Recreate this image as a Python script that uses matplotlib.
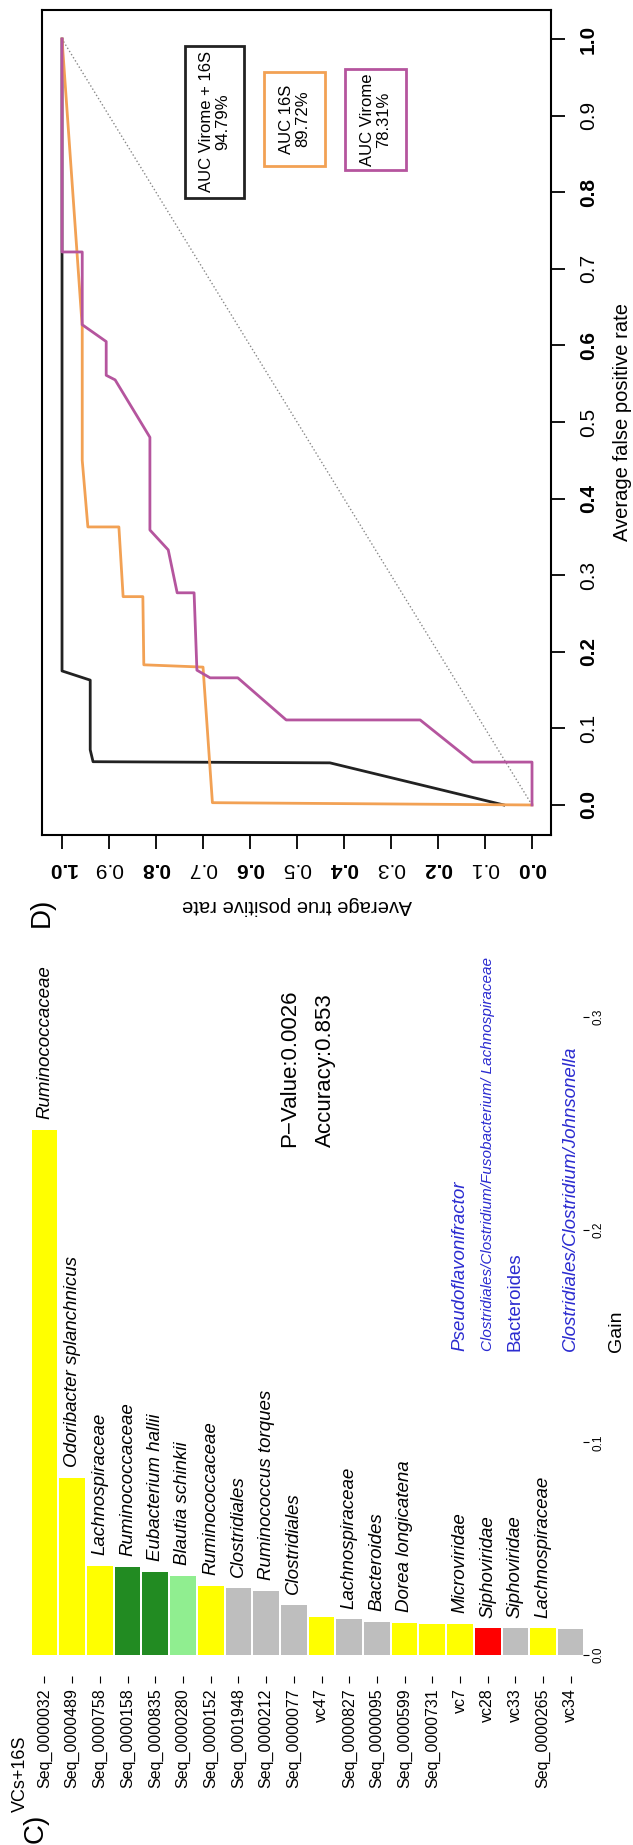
import matplotlib
matplotlib.use("Agg")
import matplotlib.pyplot as plt
from matplotlib.patches import Rectangle

plt.rcParams['font.family'] = ['Liberation Sans', 'DejaVu Sans']

# ---------------- data: panel C (feature importance, VCs + 16S) ----------------
features = ["Seq_0000032", "Seq_0000489", "Seq_0000758", "Seq_0000158", "Seq_0000835",
            "Seq_0000280", "Seq_0000152", "Seq_0001948", "Seq_0000212", "Seq_0000077",
            "vc47", "Seq_0000827", "Seq_0000095", "Seq_0000599", "Seq_0000731",
            "vc7", "vc28", "vc33", "Seq_0000265", "vc34"]
gain = [0.247, 0.0832, 0.0418, 0.0414, 0.0392,
        0.0371, 0.0324, 0.0316, 0.0302, 0.0235,
        0.0180, 0.0168, 0.0157, 0.0152, 0.0146,
        0.0146, 0.0125, 0.0125, 0.0125, 0.0121]
bar_colors = ["#FFFF00", "#FFFF00", "#FFFF00", "#228B22", "#228B22",
              "#90EE90", "#FFFF00", "#BEBEBE", "#BEBEBE", "#BEBEBE",
              "#FFFF00", "#BEBEBE", "#BEBEBE", "#FFFF00", "#FFFF00",
              "#FFFF00", "#FF0000", "#BEBEBE", "#FFFF00", "#BEBEBE"]
taxa = ["Ruminococcaceae", "Odoribacter splanchnicus", "Lachnospiraceae", "Ruminococcaceae",
        "Eubacterium hallii", "Blautia schinkii", "Ruminococcaceae", "Clostridiales",
        "Ruminococcus torques", "Clostridiales", "", "Lachnospiraceae", "Bacteroides",
        "Dorea longicatena", "", "Microviridae", "Siphoviridae", "Siphoviridae",
        "Lachnospiraceae", ""]
hosts = ["", "", "", "", "", "", "", "", "", "", "", "", "", "", "",
         "Pseudoflavonifractor",
         "Clostridiales/Clostridium/Fusobacterium/ Lachnospiraceae",
         "Bacteroides", "", "Clostridiales/Clostridium/Johnsonella"]
gain_ticks = [0.0, 0.1, 0.2, 0.3]
p_value_text = "P\u2212Value:0.0026"
accuracy_text = "Accuracy:0.853"

# ---------------- data: panel D (averaged ROC curves) ----------------
fpr_combined = [0.0, 0.055, 0.0565, 0.072, 0.163, 0.175, 1.0]
tpr_combined = [0.06, 0.43, 0.934, 0.94, 0.94, 1.0, 1.0]

fpr_16s = [0.0, 0.003, 0.180, 0.183, 0.272, 0.272, 0.363, 0.363, 0.45, 0.624, 1.0]
tpr_16s = [0.0, 0.68, 0.70, 0.826, 0.828, 0.870, 0.879, 0.945, 0.957, 0.957, 1.0]

fpr_virome = [0.0, 0.056, 0.056, 0.111, 0.111, 0.166, 0.166, 0.176, 0.277, 0.277,
              0.333, 0.359, 0.48, 0.555, 0.561, 0.605, 0.627, 0.722, 0.722, 1.0]
tpr_virome = [0.0, 0.0, 0.126, 0.238, 0.523, 0.626, 0.685, 0.713, 0.719, 0.755,
              0.774, 0.813, 0.813, 0.887, 0.906, 0.906, 0.957, 0.957, 1.0, 1.0]

auc_labels = ["AUC Virome + 16S\n94.79%", "AUC 16S\n89.72%", "AUC Virome\n78.31%"]
roc_ticks = [round(0.1 * k, 1) for k in range(11)]

col_comb = "#222222"
col_16s = "#F2A154"
col_vir = "#B5559E"

# ---------------- figure in pixel units ----------------
W, H = 633, 1845
fig = plt.figure(figsize=(W / 100, H / 100), dpi=100)


def fx(px):
    return px / W


def fy(py):
    return 1 - py / H


# ---------------- panel C ----------------
axc = fig.add_axes([fx(20), fy(1676), fx(583) - fx(20), fy(900) - fy(1676)])
pos = list(range(len(features)))
axc.bar(pos, gain, width=0.93, color=bar_colors, linewidth=0)
axc.set_xlim(-0.884, 19.44)
axc.set_ylim(-0.0099, 0.355)
for s in axc.spines.values():
    s.set_visible(False)
axc.set_xticks(pos)
axc.set_xticklabels(features, rotation=90, fontsize=11.5)
axc.tick_params(axis='x', length=5, width=0.8, pad=4, direction='out')
axc.yaxis.tick_right()
axc.set_yticks(gain_ticks)
axc.set_yticklabels([f"{t:.1f}" for t in gain_ticks], rotation=90, fontsize=8.5,
                    va='center')
axc.tick_params(axis='y', length=4, width=0.8, pad=3, direction='out')

for i, (g, t) in enumerate(zip(gain, taxa)):
    if t:
        axc.text(i, g + 0.005, t, rotation=90, ha='center', va='bottom',
                 fontsize=13.5, style='italic')
for i, h in enumerate(hosts):
    if h:
        long_name = len(h) > 40
        axc.text(i, 0.143, h, rotation=90, ha='center', va='bottom',
                 fontsize=11 if long_name else 13.5,
                 style='normal' if h == "Bacteroides" else 'italic',
                 color='#2b2bd0')

fig.text(fx(290), fy(1147), p_value_text, rotation=90, ha='center', va='bottom', fontsize=16)
fig.text(fx(325), fy(1147), accuracy_text, rotation=90, ha='center', va='bottom', fontsize=16)
fig.text(fx(616), fy(1331), "Gain", rotation=90, ha='center', va='center', fontsize=14)
fig.text(fx(20), fy(1812), "VCs+16S", rotation=90, ha='center', va='bottom', fontsize=13)
fig.text(fx(36), fy(1843), "C)", rotation=90, ha='center', va='bottom', fontsize=20)

# ---------------- panel D ----------------
axd = fig.add_axes([fx(42), fy(835), fx(551) - fx(42), fy(10) - fy(835)])
axd.plot([0, 1], [0, 1], ls=':', color='#888888', lw=1)
axd.plot(tpr_combined, fpr_combined, color=col_comb, lw=2)
axd.plot(tpr_16s, fpr_16s, color=col_16s, lw=2)
axd.plot(tpr_virome, fpr_virome, color=col_vir, lw=2)
axd.set_xlim(1.0426, -0.0404)
axd.set_ylim(-0.0392, 1.0379)
for s in axd.spines.values():
    s.set_linewidth(1.5)

axd.set_xticks(roc_ticks)
axd.set_xticklabels([f"{t:.1f}" for t in roc_ticks], rotation=180, fontsize=15)
for k, lab in enumerate(axd.get_xticklabels()):
    lab.set_fontweight('bold' if k % 2 == 0 else 'normal')
axd.tick_params(axis='x', length=10, width=1.3, pad=7, direction='out')

axd.yaxis.tick_right()
axd.set_yticks(roc_ticks)
axd.set_yticklabels([f"{t:.1f}" for t in roc_ticks], rotation=90, fontsize=15, va='center')
for k, lab in enumerate(axd.get_yticklabels()):
    lab.set_fontweight('bold' if k % 2 == 0 else 'normal')
axd.tick_params(axis='y', length=10, width=1.3, pad=10, direction='out')

fig.text(fx(297), fy(905), "Average true positive rate", rotation=180,
         ha='center', va='center', fontsize=14.5)
fig.text(fx(622), fy(422), "Average false positive rate", rotation=90,
         ha='center', va='center', fontsize=14.5)
fig.text(fx(42), fy(912), "D)", rotation=90, ha='center', va='center', fontsize=20)

# AUC legend boxes (pixel extents x0, x1, y0, y1)
boxes = [(185, 244, 46, 198, col_comb), (264, 325, 72, 166, col_16s),
         (345, 406, 69, 170, col_vir)]
for (x0, x1, y0, y1, c), lab in zip(boxes, auc_labels):
    fig.add_artist(Rectangle((fx(x0), fy(y1)), fx(x1) - fx(x0), fy(y0) - fy(y1),
                             transform=fig.transFigure, fill=False, ec=c, lw=2))
    fig.text(fx((x0 + x1) / 2), fy((y0 + y1) / 2), lab, rotation=90, ha='center',
             va='center', multialignment='center', fontsize=12, linespacing=1.1)

fig.savefig("out.png", dpi=100)
